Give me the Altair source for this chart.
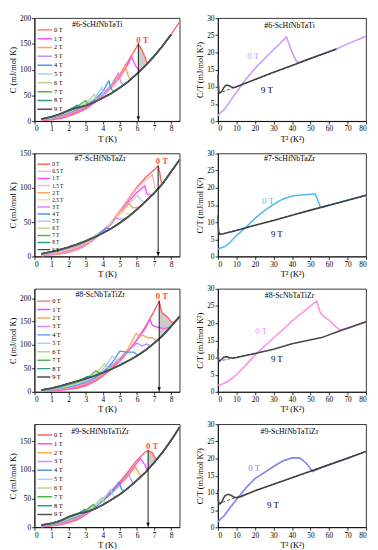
import altair as alt
import pandas as pd

FONT = "Liberation Serif"

GRID_T = [0.4, 1, 1.5, 2, 2.5, 3, 3.5, 4, 4.5, 5, 5.5, 6, 6.5, 7, 7.5, 8, 8.5]

FIELDS_A = ["0 T", "1 T", "2 T", "3 T", "4 T", "5 T", "6 T", "7 T", "8 T", "9 T"]
FIELDS_B = ["0 T", "0.5 T", "1 T", "1.5 T", "2 T", "2.5 T", "3 T", "4 T", "5 T",
            "6 T", "7 T", "8 T", "9 T"]
FIELD_COLORS = {
    "0 T": "#ff6464", "0.5 T": "#ffb4b4", "1 T": "#ff50ff", "1.5 T": "#cfcfcf",
    "2 T": "#ffa850", "2.5 T": "#ffdd99", "3 T": "#c98cff", "4 T": "#4f95e6",
    "5 T": "#a9d0f5", "6 T": "#b5da90", "7 T": "#4cb84c", "8 T": "#2e9c8e",
    "9 T": "#505050",
}

# ================= #6-ScHfNbTaTi =================
A_BASE = [4, 8.5, 14, 21, 26, 30, 37, 45, 54, 65, 77, 92, 108, 126, 146, 168, 193]
A_LOW = {
    "0 T": [0.8, 2.6, 5, 9.5, 16, 23.5, 35, 50, 69, 91, 117, 145],
    "1 T": [1.5, 4, 7, 12, 18.5, 26, 36, 49, 65, 85, 112],
    "2 T": [2, 5, 8.5, 14, 20.5, 28, 38, 50, 66, 88],
    "3 T": [2.5, 5.5, 9.5, 15.5, 22, 29.5, 39, 52, 70],
    "4 T": [3, 6.5, 11, 17, 23.5, 31, 41, 57],
    "5 T": [3.2, 7, 12, 18, 24.5, 32, 44],
    "6 T": [3.5, 7.5, 12.5, 19, 25.5, 34],
    "7 T": [3.7, 8, 13, 20, 28],
    "8 T": [3.9, 8.2, 13.5, 21.5],
}
A_PEAK_T = {
    "0 T": [6.08, 6.32, 6.48, 6.6], "1 T": [5.68, 5.9, 6.15], "2 T": [5.3, 5.45, 5.6],
    "3 T": [4.9, 5.05, 5.2], "4 T": [4.35, 4.5, 4.65], "5 T": [3.95, 4.05, 4.2],
    "6 T": [3.5, 3.62, 3.75], "7 T": [3.0, 3.1, 3.2], "8 T": [2.5, 2.6, 2.7],
}
A_PEAK_C = {
    "0 T": [150, 136, 123, 111.6], "1 T": [126, 108, 96.8], "2 T": [109, 92, 80],
    "3 T": [93, 76, 69.8], "4 T": [78, 62, 57.3], "5 T": [66, 52, 48.6],
    "6 T": [52, 42, 41], "7 T": [40, 32, 32.8], "8 T": [31, 27, 27.6],
}
A_SHADE_T = [6.08, 6.32, 6.48, 6.6]
A_SHADE_HI = [150, 136, 123, 111.6]
A_SHADE_LO = [94.6, 102.2, 107.4, 111.6]
A_R0_T2 = [0.1, 1, 3.5, 6, 10, 15, 20, 25, 30, 35, 37, 39.5, 41.8, 43.1, 50, 60, 64, 70, 80]
A_R0_CT = [1.5, 2.3, 3.4, 5.3, 8.4, 12.1, 15.3, 18.1, 20.8, 23.4, 24.5, 20.8, 18, 17,
           18.3, 20.2, 21, 22.5, 24.7]
A_R9_T2 = [0.05, 0.2, 0.5, 1, 2, 3, 4, 5, 6, 7, 8, 9, 10, 20, 30, 40, 50, 64]
A_R9_CT = [13.5, 11, 8.5, 8.2, 8.6, 9.6, 10.3, 10.5, 10.3, 10, 9.8, 9.8, 10, 12.1,
           14.2, 16.2, 18.2, 21]
A_FIT_T2 = [0, 64]
A_FIT_CT = [8.0, 21]

# ================= #7-ScHfNbTaZr =================
B_BASE = [4, 7, 10, 13.5, 17.5, 22.5, 28, 34, 41, 49, 58, 68.5, 80, 92, 106, 123.5, 141]
B_LOW = {
    "0 T": [0.85, 2.4, 3.9, 6, 10, 16, 25, 35.5, 50, 66.5, 84, 101, 115, 126],
    "0.5 T": [1.2, 3, 4.8, 7.2, 11, 17, 25.5, 36, 50, 66, 83, 99, 111],
    "1 T": [1.6, 3.6, 5.6, 8.5, 12.3, 18, 26, 36.5, 50, 65, 80, 93],
    "1.5 T": [2, 4.2, 6.5, 9.5, 13.5, 19, 27, 37, 50, 64, 77],
    "2 T": [2.3, 4.8, 7.3, 10.5, 14.5, 20, 28, 37.5, 49.5, 62],
    "2.5 T": [2.7, 5.3, 8, 11.3, 15.3, 21, 28.5, 38, 49],
    "3 T": [3, 5.8, 8.7, 12, 16, 21.5, 29, 37.5, 47],
    "4 T": [3.3, 6.2, 9.2, 12.5, 16.5, 22, 29, 37.5],
    "5 T": [3.5, 6.5, 9.5, 13, 17, 22.5, 29.5],
    "6 T": [3.7, 6.7, 9.8, 13.2, 17.5, 23.5],
    "7 T": [3.8, 6.8, 10, 13.5, 18.5],
    "8 T": [3.9, 7, 10, 14],
}
B_PEAK_T = {
    "0 T": [7.24, 7.32, 7.38, 7.45], "0.5 T": [6.9, 7.05, 7.15], "1 T": [6.45, 6.6, 6.9],
    "1.5 T": [6.05, 6.25, 6.45], "2 T": [5.55, 5.75, 5.95, 6.15], "2.5 T": [5.1, 5.45, 5.75],
    "3 T": [4.75, 5.05, 5.4], "4 T": [4.2, 4.4, 4.55], "5 T": [3.7, 3.85, 4.0],
    "6 T": [3.2, 3.35, 3.5], "7 T": [2.7, 2.85, 3.0], "8 T": [2.2, 2.35, 2.5],
}
B_PEAK_C = {
    "0 T": [132, 124, 114, 104.6], "0.5 T": [119, 100, 96.2], "1 T": [103, 90, 89.6],
    "1.5 T": [89, 82, 78.9], "2 T": [77, 71, 71, 72], "2.5 T": [64, 62, 63.2],
    "3 T": [56, 54, 56.2], "4 T": [42, 40, 41.8], "5 T": [33, 32, 34],
    "6 T": [26, 26, 28], "7 T": [20.5, 21, 22.5], "8 T": [16, 16.5, 17.5],
}
B_R0_T2 = [0.1, 1, 3.5, 6, 10, 15, 20, 25, 30, 35, 40, 45, 50, 52.5, 53.6, 54.5, 55.4,
           56, 60, 70, 80]
B_R0_CT = [2.1, 2.4, 2.8, 3.8, 6.1, 8.4, 11.1, 13.3, 15.2, 16.7, 17.6, 17.9, 18.1, 18.2,
           16.9, 15.5, 14.3, 14.3, 14.9, 16.4, 17.8]
B_R9_T2 = [0.05, 0.15, 0.4, 1, 2, 3, 5, 10, 20, 30, 40, 50, 64, 80]
B_R9_CT = [12, 9, 7.2, 6.6, 6.5, 6.6, 6.9, 7.6, 9.1, 10.5, 12, 13.5, 15.5, 17.8]
B_FIT_T2 = [0, 80]
B_FIT_CT = [6.2, 17.8]

# ================= #8-ScNbTaTiZr =================
C_BASE = [4, 8, 12.5, 18, 23, 28, 34, 41, 48.5, 57, 66.5, 77, 89, 104, 120, 140, 161]
C_LOW = {
    "0 T": [0.8, 2, 3.3, 5.2, 8.3, 13, 21.7, 34, 48.6, 66, 87, 111.6, 140, 172],
    "1 T": [1.2, 2.8, 4.5, 6.8, 10.3, 15.5, 24, 36, 51, 68, 88, 111, 136],
    "2 T": [1.6, 3.6, 5.6, 8.4, 12.3, 17.7, 26, 38, 53, 71, 93],
    "3 T": [2, 4.3, 6.6, 9.7, 14, 19.7, 28, 40, 55, 72, 89],
    "4 T": [2.4, 5, 7.6, 11, 15.6, 21.5, 30, 42, 60],
    "5 T": [2.8, 5.7, 8.7, 12.5, 17.3, 23.5, 32.5, 47],
    "6 T": [3.2, 6.3, 9.8, 14, 19, 25.5, 35],
    "7 T": [3.5, 7, 11, 15.8, 21, 27],
    "8 T": [3.8, 7.5, 11.8, 17, 22],
}
C_PEAK_T = {
    "0 T": [7.3, 7.45, 7.55, 7.73, 7.84, 8.01, 8.12, 8.3],
    "1 T": [6.75, 6.9, 7.2, 7.6, 7.95], "2 T": [5.95, 6.15, 6.35, 6.6, 6.9, 7.15],
    "3 T": [6.0, 6.3, 6.55, 6.8], "4 T": [5.0, 5.4, 5.8, 6.05], "5 T": [4.55, 4.8, 5.2],
    "6 T": [4.1, 4.35, 4.6], "7 T": [3.6, 3.8, 4.0], "8 T": [3.1, 3.3, 3.5],
}
C_PEAK_C = {
    "0 T": [193.5, 170.6, 166, 162, 157.6, 150, 148, 152.6],
    "1 T": [155, 142, 138, 135, 138], "2 T": [125, 118, 121, 116, 115, 108.8],
    "3 T": [104, 98, 102, 98], "4 T": [87, 85, 85, 78.2], "5 T": [76, 68, 60.8],
    "6 T": [60, 50, 50.2], "7 T": [45, 40, 41], "8 T": [33, 32, 34],
}
C_SHADE_T = [7.3, 7.45, 7.55, 7.73, 7.84, 8.01, 8.12, 8.3]
C_SHADE_HI = [193.5, 170.6, 166, 162, 157.6, 150, 148, 152.6]
C_SHADE_LO = [113.6, 118.4, 122, 129.2, 133.6, 140.4, 145, 152.6]
C_R0_T2 = [0.1, 1, 3.5, 6, 10, 15, 20, 25, 30, 35, 40, 47.5, 53.3, 55.4, 57.1, 59.8,
           61.5, 64.2, 65.9, 70, 80]
C_R0_CT = [1.9, 2.0, 2.5, 3.3, 5.0, 7.8, 10.7, 13.2, 15.7, 18.1, 20.6, 23.9, 26.5, 22.9,
           22, 21, 20.1, 18.7, 18.0, 18.5, 20.4]
C_R9_T2 = [0.05, 0.2, 0.5, 1, 2, 3, 4, 5, 6, 8, 10, 20, 30, 40, 56, 66, 80]
C_R9_CT = [12.5, 10, 9.2, 9, 9.5, 10, 10.2, 10.2, 10, 9.8, 10, 11.2, 12.4, 14, 15.8,
           17.8, 20.4]
C_FIT_T2 = [0, 20]
C_FIT_CT = [8.9, 11.2]

# ================= #9-ScHfNbTaTiZr =================
D_BASE = [4, 6.9, 11.3, 18.4, 23.7, 26.4, 31.5, 39, 48, 57.5, 69, 82, 96, 113, 131, 152, 175]
D_LOW = {
    "0 T": [0.6, 2.3, 4.2, 8, 13, 22, 33, 49, 64, 79, 98, 117, 132],
    "1 T": [1.0, 3, 5.3, 9.5, 14.5, 23, 33.5, 48, 62, 77, 94, 112],
    "2 T": [1.4, 3.6, 6.3, 10.8, 16, 24, 34, 47, 60, 74, 90],
    "3 T": [1.8, 4.2, 7.2, 12, 17.5, 25, 34.5, 46, 59, 74],
    "4 T": [2.2, 4.8, 8, 13.3, 19, 26, 35, 46, 60],
    "5 T": [2.6, 5.4, 8.8, 14.5, 20.3, 27, 36, 48],
    "6 T": [3, 5.9, 9.5, 15.6, 21.5, 28, 38],
    "7 T": [3.4, 6.3, 10.2, 16.7, 22.5, 29.5],
    "8 T": [3.7, 6.6, 10.8, 17.6, 23.2],
}
D_PEAK_T = {
    "0 T": [6.65, 6.9, 7.07, 7.16], "1 T": [6.2, 6.45, 6.6], "2 T": [5.9, 6.1, 6.25],
    "3 T": [5.5, 5.7, 5.8], "4 T": [4.95, 5.1, 5.25], "5 T": [4.45, 4.65, 4.75],
    "6 T": [3.95, 4.1, 4.2], "7 T": [3.45, 3.6, 3.7], "8 T": [2.95, 3.05, 3.15],
}
D_PEAK_C = {
    "0 T": [134, 130, 120, 118.8], "1 T": [120, 110, 99.4], "2 T": [106, 95, 89],
    "3 T": [93, 80, 76.8], "4 T": [79, 66, 63.3], "5 T": [66, 53, 52.8],
    "6 T": [52, 43, 42.6], "7 T": [40, 34, 34.5], "8 T": [31, 27, 27.9],
}
D_SHADE_T = [6.65, 6.9, 7.07, 7.16]
D_SHADE_HI = [134, 130, 120, 118.8]
D_SHADE_LO = [101.1, 109.6, 115.5, 118.8]
D_R0_T2 = [0.1, 1, 3.5, 6, 10, 15, 20, 25, 30, 35, 40, 44, 47.5, 50, 51.3, 55, 60, 70, 80]
D_R0_CT = [1.5, 2.2, 3.4, 5.3, 8.1, 11.4, 14.2, 15.9, 17.7, 19.3, 20.2, 20.2, 18.8, 17,
           16.2, 17.2, 18.2, 20.1, 22.1]
D_R9_T2 = [0.05, 0.2, 0.5, 1, 2, 3, 4, 5.5, 7, 8.5, 10, 12, 20, 30, 40, 50, 60, 70, 80]
D_R9_CT = [11, 8, 7, 6.8, 7.3, 8.5, 9.3, 9.6, 9.3, 8.8, 8.6, 8.8, 10.6, 12.5, 14.4, 16.3,
           18.2, 20.1, 22.1]
D_FIT_T2 = [0, 80]
D_FIT_CT = [6.8, 22.1]

LW, LH = 148, 105
RW, RH = 151, 105


def label(text, xy, color="black", size=8, weight="normal"):
    return alt.Chart(pd.DataFrame({"s": [text]})).mark_text(
        font=FONT, fontSize=size, color=color, fontWeight=weight,
        align="center", baseline="middle"
    ).encode(text="s:N", x=alt.value(xy[0]), y=alt.value(xy[1]))


def left_panel(fields, base, low, peak_t, peak_c, stop_all, stop_zero, ymax, yticks,
               shade, title, title_xy, zero_xy, leg_y, leg_row, leg_pad, leg_font, leg_len):
    rows = []
    for f in fields[:-1]:
        pts = list(zip(GRID_T, low[f])) + list(zip(peak_t[f], peak_c[f]))
        stop = stop_zero if f == "0 T" else stop_all
        pts += [(g, b) for g, b in zip(GRID_T, base) if peak_t[f][-1] < g <= stop]
        rows += [{"field": f, "T": t, "C": c} for t, c in pts]
    nine = [{"field": "9 T", "T": g, "C": b} for g, b in zip(GRID_T, base) if g <= stop_all]
    curves = pd.DataFrame(rows + nine)

    x = alt.X("T:Q", scale=alt.Scale(domain=[0, 8.5], nice=False),
              axis=alt.Axis(values=list(range(9)), title="T (K)"))
    y = alt.Y("C:Q", scale=alt.Scale(domain=[0, ymax], nice=False),
              axis=alt.Axis(values=yticks, title="C (mJ/mol K)"))
    layers = []
    if shade is not None:
        sd = pd.DataFrame({"T": shade[0], "C": shade[1], "lo": shade[2]})
        layers.append(alt.Chart(sd).mark_area(color="#c6c6c6", opacity=0.9)
                      .encode(x=x, y=y, y2="lo:Q"))
    layers.append(alt.Chart(curves).mark_line(strokeWidth=1.4).encode(
        x=x, y=y,
        color=alt.Color("field:N",
                        scale=alt.Scale(domain=fields, range=[FIELD_COLORS[f] for f in fields]),
                        legend=alt.Legend(orient="none", legendX=2, legendY=leg_y, title=None,
                                          symbolType="stroke", symbolSize=leg_len * leg_len,
                                          symbolStrokeWidth=1.5, clipHeight=leg_row,
                                          rowPadding=leg_pad, labelFont=FONT,
                                          labelFontSize=leg_font, labelOffset=1, padding=0,
                                          labelColor="black"))))
    layers.append(alt.Chart(pd.DataFrame(nine)).mark_line(
        color=FIELD_COLORS["9 T"], strokeWidth=1.6).encode(x=x, y=y))
    arrow = pd.DataFrame({"T": [peak_t["0 T"][0]], "C": [peak_c["0 T"][0]], "bottom": [0]})
    layers.append(alt.Chart(arrow).mark_rule(color="black", strokeWidth=0.9)
                  .encode(x=x, y=y, y2="bottom:Q"))
    layers.append(alt.Chart(arrow).mark_point(shape="triangle-down", filled=True, size=14,
                                              color="black", opacity=1)
                  .encode(x=x, y=alt.value(LH - 3)))
    layers.append(label("0 T", zero_xy, "#ff5050", 9, "bold"))
    layers.append(label(title, title_xy, "black", 8))
    return alt.layer(*layers).properties(width=LW, height=LH)


def right_panel(t2_0, ct_0, t2_9, ct_9, fit_t2, fit_ct, color0, title, title_xy,
                zero_xy, nine_xy):
    x = alt.X("T2:Q", scale=alt.Scale(domain=[0, 80], nice=False),
              axis=alt.Axis(values=list(range(0, 81, 10)), title="T² (K²)"))
    y = alt.Y("CT:Q", scale=alt.Scale(domain=[0, 30], nice=False),
              axis=alt.Axis(values=list(range(0, 31, 5)), title="C/T (mJ/mol K²)"))
    zero = alt.Chart(pd.DataFrame({"T2": t2_0, "CT": ct_0})).mark_line(
        color=color0, strokeWidth=1.6).encode(x=x, y=y)
    nine = alt.Chart(pd.DataFrame({"T2": t2_9, "CT": ct_9})).mark_line(
        color="#474747", strokeWidth=1.6).encode(x=x, y=y)
    fit = alt.Chart(pd.DataFrame({"T2": fit_t2, "CT": fit_ct})).mark_line(
        color="#333333", strokeWidth=0.8, strokeDash=[3, 2]).encode(x=x, y=y)
    return alt.layer(
        zero, nine, fit,
        label(title, title_xy, "black", 8),
        label("0 T", zero_xy, color0, 9),
        label("9 T", nine_xy, "black", 9),
    ).properties(width=RW, height=RH)


rowA = alt.hconcat(
    left_panel(FIELDS_A, A_BASE, A_LOW, A_PEAK_T, A_PEAK_C, 8.0, 8.5, 200,
               [0, 50, 100, 150, 200], (A_SHADE_T, A_SHADE_HI, A_SHADE_LO),
               "#6-ScHfNbTaTi", (64, 7), (110, 22), 9, 6, 2, 6.5, 15),
    right_panel(A_R0_T2, A_R0_CT, A_R9_T2, A_R9_CT, A_FIT_T2, A_FIT_CT, "#c79cff",
                "#6-ScHfNbTaTi", (73, 8), (36, 39), (50, 73)),
    spacing=12,
).resolve_scale(color="independent")

rowB = alt.hconcat(
    left_panel(FIELDS_B, B_BASE, B_LOW, B_PEAK_T, B_PEAK_C, 8.5, 8.5, 150,
               [0, 50, 100, 150], None,
               "#7-ScHfNbTaZr", (67, 6), (130, 8), 8.5, 5, 1.25, 5.5, 13),
    right_panel(B_R0_T2, B_R0_CT, B_R9_T2, B_R9_CT, B_FIT_T2, B_FIT_CT, "#4dbdf5",
                "#7-ScHfNbTaZr", (73, 6), (51, 49), (60, 82)),
    spacing=12,
).resolve_scale(color="independent")

rowC = alt.hconcat(
    left_panel(FIELDS_A, C_BASE, C_LOW, C_PEAK_T, C_PEAK_C, 8.5, 8.5, 220,
               [0, 50, 100, 150, 200], (C_SHADE_T, C_SHADE_HI, C_SHADE_LO),
               "#8-ScNbTaTiZr", (67, 6), (130, 7), 9.5, 6, 1.6, 6.5, 13.5),
    right_panel(C_R0_T2, C_R0_CT, C_R9_T2, C_R9_CT, C_FIT_T2, C_FIT_CT, "#ff90e4",
                "#8-ScNbTaTiZr", (73, 7), (44, 43), (60, 72)),
    spacing=12,
).resolve_scale(color="independent")

rowD = alt.hconcat(
    left_panel(FIELDS_A, D_BASE, D_LOW, D_PEAK_T, D_PEAK_C, 8.5, 8.5, 180,
               [0, 50, 100, 150], (D_SHADE_T, D_SHADE_HI, D_SHADE_LO),
               "#9-ScHfNbTaTiZr", (67, 8), (120, 22), 8, 6, 2, 6.5, 15),
    right_panel(D_R0_T2, D_R0_CT, D_R9_T2, D_R9_CT, D_FIT_T2, D_FIT_CT, "#7b83f2",
                "#9-ScHfNbTaTiZr", (73, 8), (37, 45), (56, 82)),
    spacing=12,
).resolve_scale(color="independent")

chart = alt.vconcat(rowA, rowB, rowC, rowD, spacing=5).resolve_scale(
    color="independent"
).properties(padding=0).configure_view(
    stroke="black", strokeWidth=0.8
).configure_axis(
    labelFont=FONT, labelFontSize=7.5, titleFont=FONT, titleFontSize=8.5,
    titleFontWeight="normal", labelColor="black", titleColor="black",
    domainColor="black", tickColor="black", tickSize=3, labelPadding=1,
    titlePadding=2, grid=False, domainWidth=0.8, tickWidth=0.8
)

chart.save("out.html", embed_options={"renderer": "svg", "actions": False})
